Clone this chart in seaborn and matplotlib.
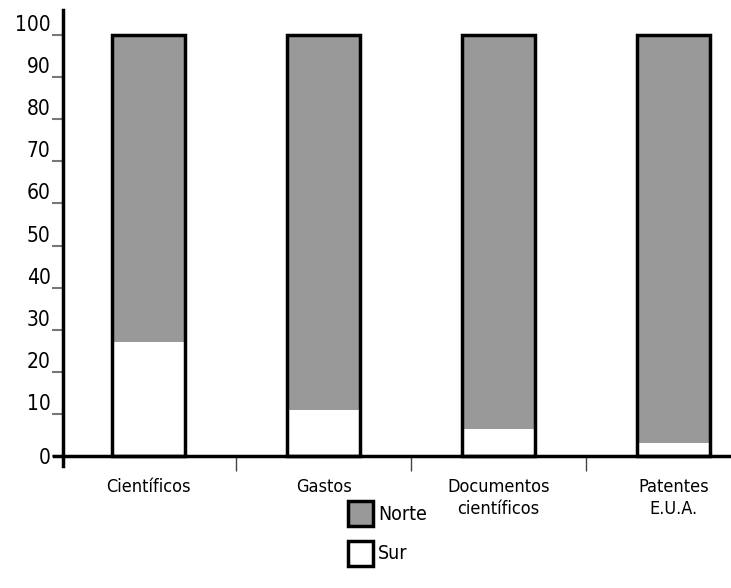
import matplotlib
matplotlib.use("Agg")
import matplotlib.pyplot as plt
from matplotlib.patches import Patch
import seaborn as sns

# datos (porcentaje Norte / Sur)
categorias = ["Científicos", "Gastos", "Documentos\ncientíficos", "Patentes\nE.U.A."]
sur = [27, 11, 6.5, 3]
norte = [73, 89, 93.5, 97]
total = [s + n for s, n in zip(sur, norte)]
yticks = list(range(0, 101, 10))

sns.set_style("white")
plt.rcParams["font.family"] = ["DejaVu Sans"]
plt.rcParams["font.stretch"] = "condensed"
plt.rcParams["text.color"] = "black"
plt.rcParams["xtick.color"] = "black"
plt.rcParams["ytick.color"] = "black"

gris = "#999999"
fig = plt.figure(figsize=(7.31, 5.88), dpi=100)
ax = fig.add_axes([0.0862, 0.2075, 0.9138, 0.7755])

# barra completa (Norte encima), Sur en blanco abajo, luego contorno
sns.barplot(x=categorias, y=total, color=gris, saturation=1, width=0.42,
            edgecolor="none", ax=ax)
sns.barplot(x=categorias, y=sur, color="white", saturation=1, width=0.42,
            edgecolor="none", ax=ax)
sns.barplot(x=categorias, y=total, color="black", fill=False, width=0.42,
            linewidth=2.5, ax=ax)

ax.set_xlim(-0.49, 3.33)
ax.set_ylim(-2.4, 106)

for s in ["top", "right"]:
    ax.spines[s].set_visible(False)
ax.spines["left"].set_linewidth(2.5)
ax.spines["left"].set_color("black")
ax.spines["bottom"].set_position(("data", 0))
ax.spines["bottom"].set_linewidth(2.5)
ax.spines["bottom"].set_color("black")
ax.spines["bottom"].set_bounds(-0.54, 3.33)

ax.set_yticks(yticks)
ax.set_yticklabels([str(v) for v in yticks], fontsize=15, color="black")
ax.tick_params(axis="y", direction="out", length=8, width=1.5,
               color="#777777", pad=1, left=True)
for lab, v in zip(ax.get_yticklabels(), yticks):
    if v > 0:
        lab.set_verticalalignment("bottom")

ax.set_xticks(range(len(categorias)))
ax.set_xticklabels(categorias, fontsize=13, linespacing=1.3, color="black")
ax.set_xticks([0.5, 1.5, 2.5], minor=True)
ax.tick_params(axis="x", which="major", length=0, pad=16)
ax.tick_params(axis="x", which="minor", direction="out", length=11,
               width=1, color="#444444", bottom=True)
for lab in ax.get_xticklabels():
    lab.set_verticalalignment("top")

ax.set_xlabel("")
ax.set_ylabel("")

handles = [Patch(facecolor=gris, edgecolor="black", linewidth=2.5, label="Norte"),
           Patch(facecolor="white", edgecolor="black", linewidth=2.5, label="Sur")]
fig.legend(handles=handles, loc="upper left", bbox_to_anchor=(0.476, 0.148),
           frameon=False, fontsize=14, handlelength=1.3, handleheight=1.6,
           handletextpad=0.25, labelspacing=0.75, borderpad=0, borderaxespad=0)

fig.savefig("out.png", dpi=100)
